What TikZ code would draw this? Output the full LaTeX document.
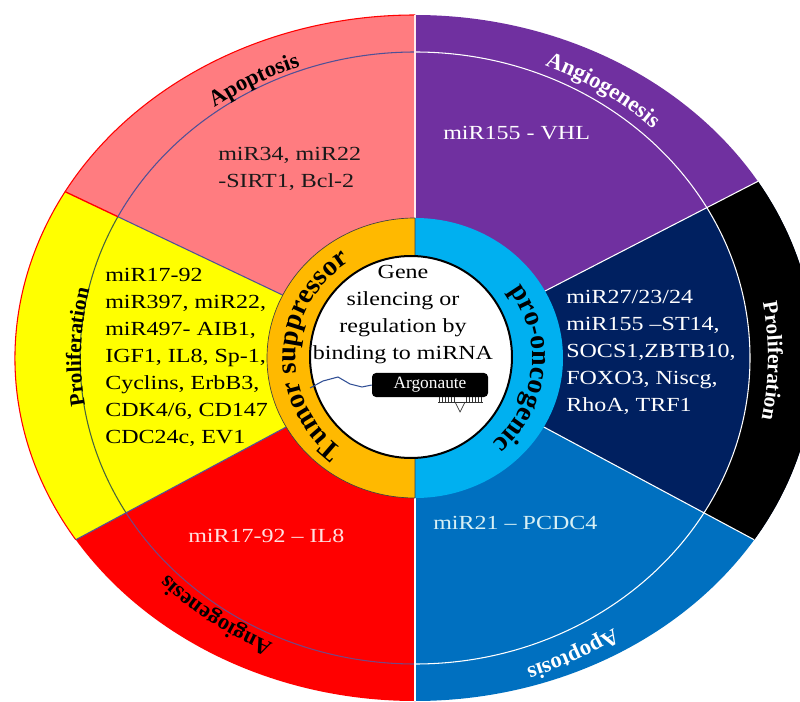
\documentclass[tikz,border=0pt]{standalone}
\usepackage{fontspec}
\setmainfont{Liberation Serif}
\usepackage{xcolor}
\usepackage{tikz}
\usetikzlibrary{decorations.text}

\definecolor{pinkSec}{RGB}{255,124,128}
\definecolor{purpleSec}{RGB}{112,48,160}
\definecolor{navySec}{RGB}{0,32,96}
\definecolor{blueSec}{RGB}{0,112,192}
\definecolor{redSec}{RGB}{255,0,0}
\definecolor{yellowSec}{RGB}{255,255,0}
\definecolor{ringOrange}{RGB}{255,185,0}
\definecolor{ringBlue}{RGB}{0,176,240}
\definecolor{lineBlue}{RGB}{80,80,150}
\definecolor{lineGreen}{RGB}{70,100,60}
\definecolor{linePurple}{RGB}{120,70,130}
\definecolor{rnaBlue}{RGB}{50,80,150}
\definecolor{paleRed}{RGB}{255,225,225}
\definecolor{paleBlue}{RGB}{215,240,245}

\newcommand\ringfont{\bfseries\fontsize{21}{21}\selectfont}
\newcommand\bandfont{\bfseries\fontsize{17}{17}\selectfont}
\newcommand\sidefont{\bfseries\fontsize{16}{16}\selectfont}

\tikzset{
  gene/.style={inner sep=0pt, font=\fontsize{15}{20.3}\selectfont, xscale=1.2},
  argobox/.style={fill=black, text=white, rounded corners=3pt, inner sep=0pt,
    minimum width=87pt, minimum height=18pt, font=\fontsize{13}{13}\selectfont},
}

\begin{document}
\begin{tikzpicture}[x=0.75pt,y=0.75pt,yscale=-1,xscale=1]
\useasboundingbox (0,0) rectangle (800,702);
\clip (0,0) rectangle (800,702);

%Shape: Sectors
\fill[pinkSec] (415,358) -- ++(209:400 and 343) arc[start angle=209, end angle=270, x radius=400, y radius=343] -- cycle;
\fill[purpleSec] (415,358) -- ++(270:400 and 343) arc[start angle=270, end angle=329, x radius=400, y radius=343] -- cycle;
\fill[navySec] (415,358) -- ++(-31:400 and 343) arc[start angle=-31, end angle=32, x radius=400, y radius=343] -- cycle;
\fill[blueSec] (415,358) -- ++(32:400 and 343) arc[start angle=32, end angle=90, x radius=400, y radius=343] -- cycle;
\fill[redSec] (415,358) -- ++(90:400 and 343) arc[start angle=90, end angle=148, x radius=400, y radius=343] -- cycle;
\fill[yellowSec] (415,358) -- ++(148:400 and 343) arc[start angle=148, end angle=209, x radius=400, y radius=343] -- cycle;
%Shape: Black band
\fill[black] (415,358) ++(-31:400 and 343) arc[start angle=-31, end angle=32, x radius=400, y radius=343]
  -- ([shift={(415,358)}]30.4:335 and 306) arc[start angle=30.4, end angle=-29.4, x radius=335, y radius=306] -- cycle;
%Shape: Outer edge
\draw[redSec, line width=0.8] (415,358) ++(148:400 and 343) arc[start angle=148, end angle=270, x radius=400, y radius=343];

%Shape: Inner band line
\draw[lineBlue, line width=0.8] (415,358) ++(207.5:335 and 306) arc[start angle=207.5, end angle=270, x radius=335, y radius=306];
\draw[white, line width=0.8] (415,358) ++(270:335 and 306) arc[start angle=270, end angle=450, x radius=335, y radius=306];
\draw[linePurple, line width=0.8] (415,358) ++(90:335 and 306) arc[start angle=90, end angle=149.6, x radius=335, y radius=306];
\draw[lineGreen, line width=0.8] (415,358) ++(149.6:335 and 306) arc[start angle=149.6, end angle=207.5, x radius=335, y radius=306];

%Straight Lines
\draw[white!85!pinkSec, line width=0.8] (415,358) -- ([shift={(415,358)}]270:400 and 343);
\draw[white, line width=0.8] (415,358) -- ([shift={(415,358)}]-31:400 and 343);
\draw[white, line width=0.8] (415,358) -- ([shift={(415,358)}]32:400 and 343);
\draw[white, line width=0.8] (415,358) -- ([shift={(415,358)}]90:400 and 343);
\draw[lineBlue, line width=0.8] (415,358) -- ([shift={(415,358)}]148:400 and 343);
\draw[lineBlue, line width=0.8] (415,358) -- ([shift={(415,358)}]207.5:335 and 306);
\draw[redSec, line width=1] ([shift={(415,358)}]207.5:335 and 306) -- ([shift={(415,358)}]209:400 and 343);

%Shape: Ring
\fill[ringOrange] (415,358) -- ++(90:148 and 140) arc[start angle=90, end angle=270, x radius=148, y radius=140] -- cycle;
\fill[ringBlue] (415,358) -- ++(-90:148 and 140) arc[start angle=-90, end angle=90, x radius=148, y radius=140] -- cycle;
\draw[black!75, line width=0.5] (415,358) ++(90:148 and 140) arc[start angle=90, end angle=270, x radius=148, y radius=140] -- cycle;
%Shape: Circle
\draw[fill=white, line width=1.5] (411,357) ellipse [x radius=101, y radius=101];

%Curved Text
\path[decorate, decoration={text along path, text align=center, text={|\ringfont|Tumor suppressor}}]
  (415,358) ++(115:119 and 115) arc[start angle=115, end angle=249, x radius=119, y radius=115];
\path[decorate, decoration={text along path, text align=center, text={|\ringfont|pro-oncogenic}}]
  (415,358) ++(-55:117 and 114) arc[start angle=-55, end angle=67, x radius=117, y radius=114];
\path[decorate, decoration={text along path, text align=center, text={|\bandfont|Apoptosis}}]
  (415,358) ++(211:339 and 310) arc[start angle=211, end angle=272, x radius=339, y radius=310];
\path[decorate, decoration={text along path, text align=center, text color=white, text={|\bandfont|Angiogenesis}}]
  (415,358) ++(268:345 and 316) arc[start angle=268, end angle=339, x radius=345, y radius=316];
\path[decorate, decoration={text along path, text align=center, text color=white, text={|\sidefont|Proliferation}}]
  (415,358) ++(-30:353 and 322) arc[start angle=-30, end angle=31, x radius=353, y radius=322];
\path[decorate, decoration={text along path, text align=center, text color=white, text={|\bandfont|Apoptosis}}]
  (415,358) ++(34:356 and 326) arc[start angle=34, end angle=93, x radius=356, y radius=326];
\path[decorate, decoration={text along path, text align=center, text={|\bandfont|Angiogenesis}}]
  (415,358) ++(91:343 and 313) arc[start angle=91, end angle=161, x radius=343, y radius=313];
\path[decorate, decoration={text along path, text align=center, text={|\sidefont|Proliferation}}]
  (415,358) ++(152:334 and 305) arc[start angle=152, end angle=212, x radius=334, y radius=305];

% Text Node
\node[gene, anchor=north west, align=left, text=black!90] (apopTS) at (218,147) {miR34, miR22\\-SIRT1, Bcl-2};
% Text Node
\node[gene, anchor=base west, text=white] (angioPO) at (443,140) {miR155 - VHL};
% Text Node
\node[gene, anchor=north west, align=left] (proliTS) at (105,268) {miR17-92\\miR397, miR22,\\miR497- AIB1,\\IGF1, IL8, Sp-1,\\Cyclins, ErbB3,\\CDK4/6, CD147\\CDC24c, EV1};
% Text Node
\node[gene, anchor=north west, align=left, text=white] (proliPO) at (566,290) {miR27/23/24\\miR155 --ST14,\\SOCS1,ZBTB10,\\FOXO3, Niscg,\\RhoA, TRF1};
% Text Node
\node[gene, anchor=base west, text=paleRed] (angioTS) at (188,542) {miR17-92 -- IL8};
% Text Node
\node[gene, anchor=base west, text=paleBlue] (apopPO) at (433,529) {miR21 -- PCDC4};
% Text Node
\node[gene, anchor=north, align=center] (silence) at (403,265) {Gene\\silencing or\\regulation by\\binding to miRNA};

% Argonaute
\node[argobox] (argo) at (430,385) {Argonaute};
\draw[rnaBlue, line width=0.8] (310,388) -- (323,381) -- (338,377) -- (350,384) -- (362,387) -- (argo.west);
\draw[black!80, line width=0.5] (438,402) -- (483,402);
\foreach \x in {439,442,...,454,466,469,...,483} {
  \draw[black!80, line width=0.5] (\x,397) -- (\x,402);
}
\draw[black!80, line width=0.5] (455,402) -- (460,412) -- (465,402);

\end{tikzpicture}
\end{document}
